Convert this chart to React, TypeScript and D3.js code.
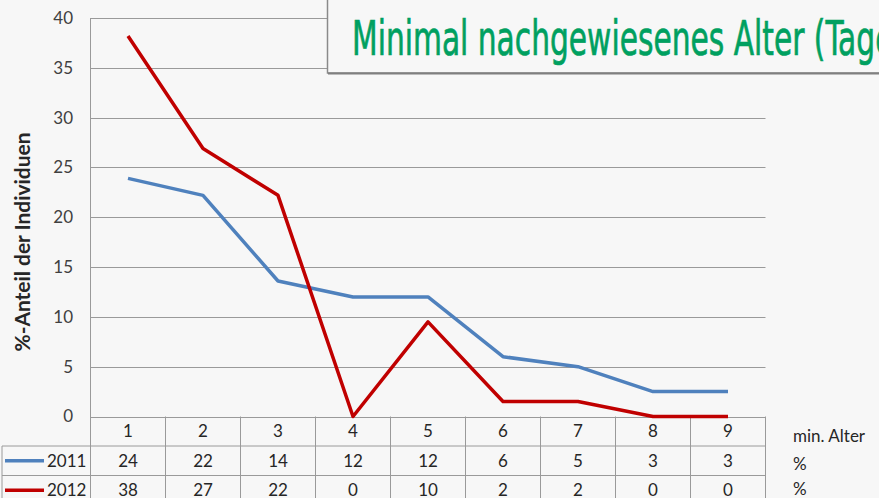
import React from "react";
import * as d3 from "d3";

const categories = ["1", "2", "3", "4", "5", "6", "7", "8", "9"];
const series2011 = [23.9, 22.2, 13.6, 12, 12, 6.0, 5.0, 2.5, 2.5];
const series2012 = [38.2, 26.9, 22.2, 0, 9.5, 1.5, 1.5, 0, 0];
const seriesNames = ["2011", "2012"];
const yTicks = [0, 5, 10, 15, 20, 25, 30, 35, 40];
const titleText = "Minimal nachgewiesenes Alter (Tage)";
const yAxisTitle = "%-Anteil der Individuen";
const xAxisUnit = "min. Alter";
const rowUnit = "%";

const W = 879;
const H = 498;
const left = 90.5;
const right = 765.5;
const top = 18;
const bottom = 416.5;
const rowH = 29.5;
const font = "Lato, 'Open Sans', sans-serif";
const colors = ["#4F81BD", "#C00000"];
const gridColor = "#9a9a9a";
const fs = 17;

export default function App() {
  const x = d3.scaleBand<string>().domain(categories).range([left, right]);
  const y = d3.scaleLinear().domain([0, 40]).range([bottom, top]);
  const line = d3
    .line<number>()
    .x((_, i) => (x(categories[i]) as number) + x.bandwidth() / 2)
    .y((d) => y(d));
  const allSeries = [series2011, series2012];

  return (
    <svg
      width={W}
      height={H}
      style={{ position: "absolute", left: 0, top: 0, background: "#f7f7f7" }}
    >
      <rect x={0} y={0} width={W} height={H} fill="#f7f7f7" />
      {yTicks.map((t) => (
        <line
          key={t}
          x1={left}
          x2={right}
          y1={Math.round(y(t)) + 0.5}
          y2={Math.round(y(t)) + 0.5}
          stroke={gridColor}
          strokeWidth={1}
        />
      ))}
      <line x1={left} x2={left} y1={top} y2={bottom + rowH * 3} stroke={gridColor} />
      {yTicks.map((t) => (
        <text
          key={"l" + t}
          x={73}
          y={y(t)}
          dy="0.35em"
          textAnchor="end"
          fontFamily={font}
          fontSize={fs}
          fill="#404040"
        >
          {t}
        </text>
      ))}
      <text
        transform={`translate(30,242) rotate(-90)`}
        textAnchor="middle"
        fontFamily={font}
        fontWeight="bold"
        fontSize={21}
        fill="#262626"
        textLength={219}
        lengthAdjust="spacingAndGlyphs"
      >
        {yAxisTitle}
      </text>
      {categories.map((c) => (
        <line
          key={"v" + c}
          x1={(x(c) as number) + x.bandwidth()}
          x2={(x(c) as number) + x.bandwidth()}
          y1={bottom}
          y2={bottom + rowH * 3}
          stroke={gridColor}
        />
      ))}
      {[1, 2].map((r) => (
        <line
          key={"h" + r}
          x1={2}
          x2={right}
          y1={bottom + rowH * r}
          y2={bottom + rowH * r}
          stroke={gridColor}
        />
      ))}
      <line x1={2} x2={2} y1={bottom + rowH} y2={H} stroke={gridColor} />
      {categories.map((c) => (
        <text
          key={"c" + c}
          x={(x(c) as number) + x.bandwidth() / 2}
          y={bottom + rowH / 2}
          dy="0.35em"
          textAnchor="middle"
          fontFamily={font}
          fontSize={fs}
          fill="#262626"
        >
          {c}
        </text>
      ))}
      {allSeries.map((s, si) =>
        s.map((v, i) => (
          <text
            key={`t${si}-${i}`}
            x={(x(categories[i]) as number) + x.bandwidth() / 2}
            y={bottom + rowH * (si + 1) + rowH / 2}
            dy="0.35em"
            textAnchor="middle"
            fontFamily={font}
            fontSize={fs}
            fill="#262626"
          >
            {Math.round(v)}
          </text>
        ))
      )}
      {seriesNames.map((n, si) => (
        <g key={n}>
          <line
            x1={5}
            x2={44}
            y1={bottom + rowH * (si + 1) + rowH / 2}
            y2={bottom + rowH * (si + 1) + rowH / 2}
            stroke={colors[si]}
            strokeWidth={3.5}
          />
          <text
            x={47}
            y={bottom + rowH * (si + 1) + rowH / 2}
            dy="0.35em"
            fontFamily={font}
            fontSize={fs}
            fill="#262626"
          >
            {n}
          </text>
          <text
            x={793}
            y={si === 0 ? 470 : 495}
            fontFamily={font}
            fontSize={fs}
            fill="#262626"
          >
            {rowUnit}
          </text>
        </g>
      ))}
      <text x={793} y={442} fontFamily={font} fontSize={fs} fill="#262626">
        {xAxisUnit}
      </text>
      {allSeries.map((s, si) => (
        <path
          key={"p" + si}
          d={line(s) as string}
          fill="none"
          stroke={colors[si]}
          strokeWidth={3.5}
          strokeLinejoin="round"
        />
      ))}
      <rect x={327.5} y={-5} width={600} height={78} fill="#f7f7f7" stroke="#8a8a8a" strokeWidth={1.5} />
      <line x1={328} x2={W} y1={73.5} y2={73.5} stroke="#808080" strokeWidth={2} />
      <text
        x={352}
        y={55}
        fontFamily="'Liberation Sans Narrow', 'DejaVu Sans Condensed', sans-serif"
        fontSize={48}
        fill="#00A060"
        stroke="#00A060"
        strokeWidth={0.7}
        textLength={553}
        lengthAdjust="spacingAndGlyphs"
      >
        {titleText}
      </text>
    </svg>
  );
}
